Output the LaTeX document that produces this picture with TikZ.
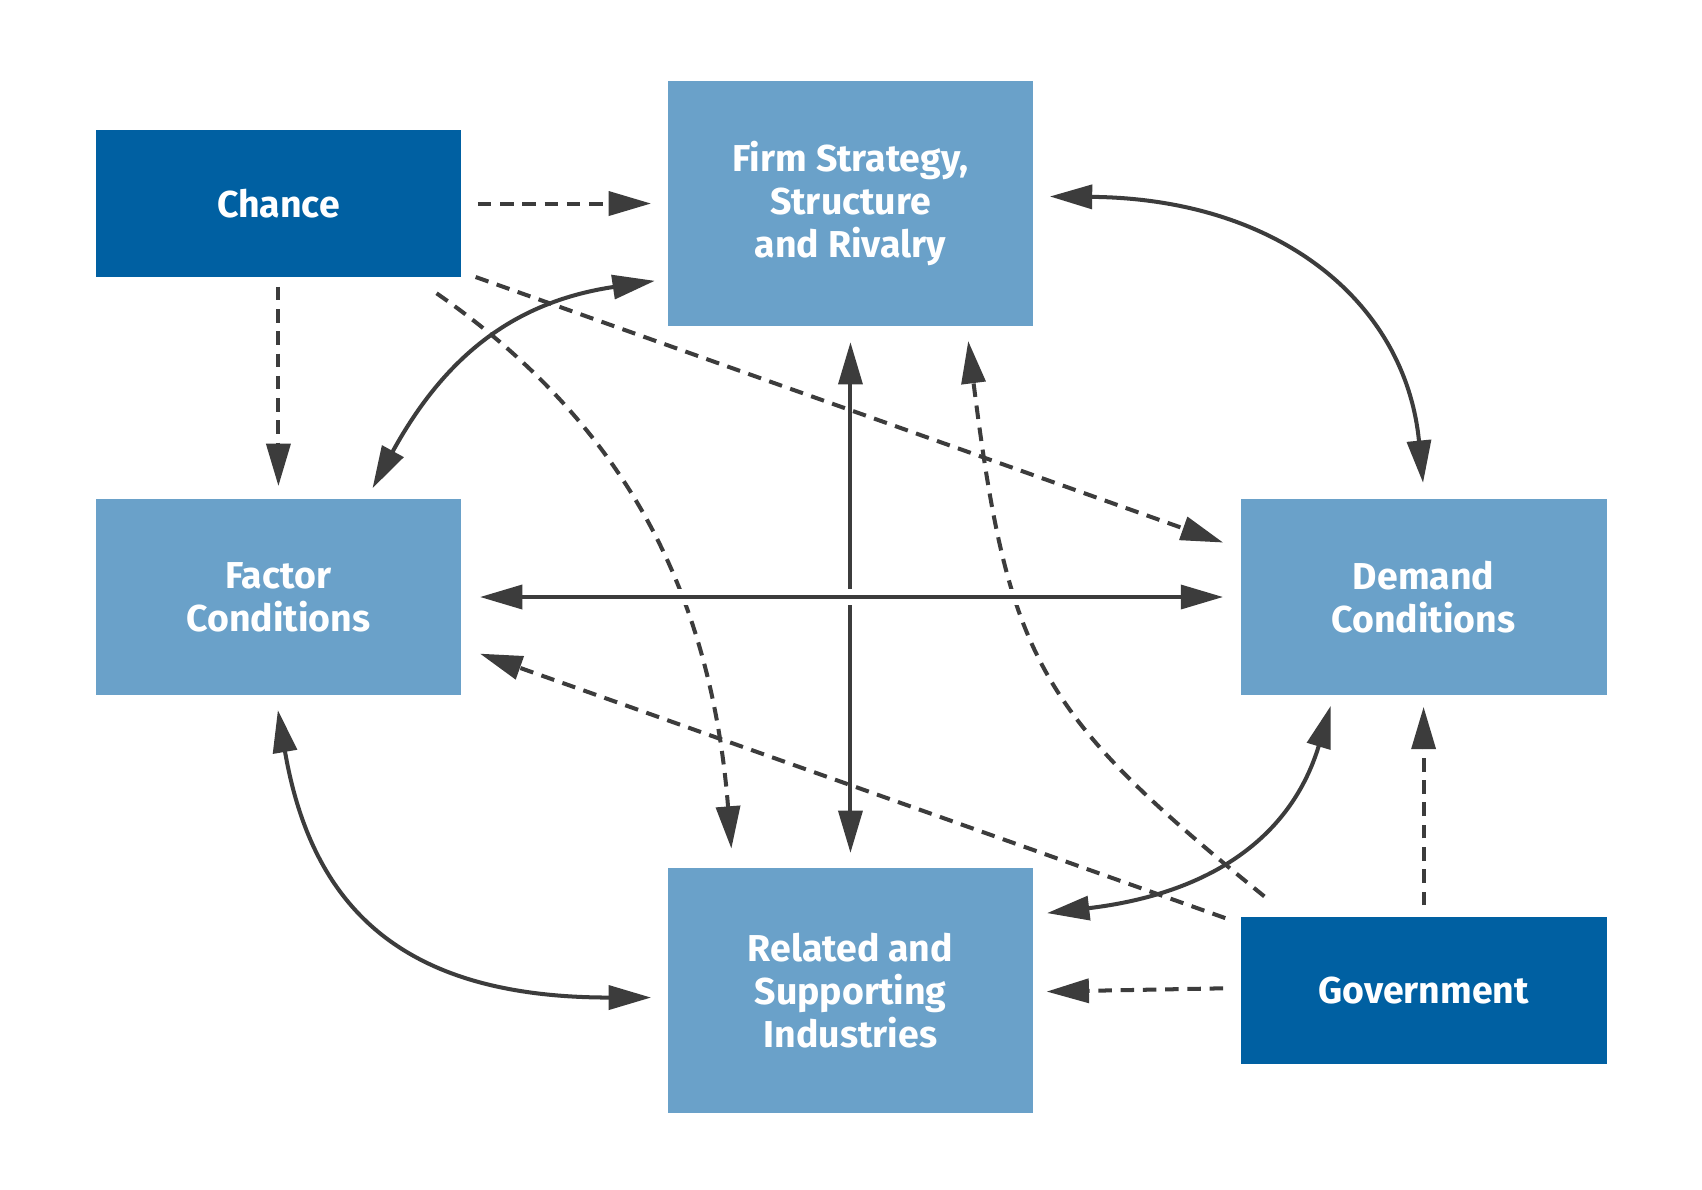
\documentclass[tikz,border=0pt]{standalone}
\usepackage{fontspec}
\setmainfont{Fira Sans}
\usetikzlibrary{arrows.meta,calc}
\definecolor{darkblue}{HTML}{0060A2}
\definecolor{lightblue}{HTML}{6AA1C9}
\definecolor{arrowgray}{HTML}{3C3C3C}
\begin{document}
\begin{tikzpicture}[x=1pt,y=-1pt,
  box/.style={rectangle, minimum width=337pt, text=white, inner sep=0pt,
    font=\fontsize{34.5}{39.4}\selectfont\bfseries, align=center},
  lightbox/.style={box, fill=lightblue},
  darkbox/.style={box, fill=darkblue},
  conn/.style={draw=arrowgray, line width=3.7pt, >={Triangle[length=39pt,width=22pt]}},
  dsh/.style={conn, dash pattern=on 12.5pt off 8pt},
  knock/.style={preaction={draw=white, line width=14pt, arrows=-}}]
\useasboundingbox[fill=white] (0,0) rectangle (1568,1096);

\node[darkbox, minimum height=135pt] (chance) at (256.5,187.5) {Chance};
\node[lightbox, minimum height=225pt] (firm) at (783.5,187.5) {Firm Strategy,\\Structure\\and Rivalry};
\node[lightbox, minimum height=180pt] (factor) at (256.5,550) {Factor\\Conditions};
\node[lightbox, minimum height=180pt] (demand) at (1311.5,550) {Demand\\Conditions};
\node[lightbox, minimum height=225pt] (related) at (783.5,912.5) {Related and\\Supporting\\Industries};
\node[darkbox, minimum height=135pt] (gov) at (1311.5,912.5) {Government};

% dashed influences of Chance
\draw[dsh, ->, shorten <=15pt, shorten >=15pt] (chance.east) -- (firm.west);
\draw[dsh, ->, shorten <=9pt, shorten >=12pt] (chance.south) -- (factor.north);
\draw[dsh, ->] ($(chance.south east)+(13,0)$) -- ($(demand.north west)+(-16,40)$);
\draw[dsh, ->] ($(chance.south east)+(-23,15)$) .. controls +(171,119) and +(-19,-239) .. ($(related.north west)+(59,-18)$);

% dashed influences of Government
\draw[dsh, ->, shorten <=11pt, shorten >=11pt] (gov.north) -- (demand.south);
\draw[dsh, ->] ($(gov.west)+(-16,-2)$) -- ($(related.east)+(12,1)$);
\draw[dsh, ->] ($(gov.north west)+(-14,1)$) -- ($(factor.south east)+(17,-38)$);
\draw[dsh, ->] ($(gov.north west)+(22,-19)$) .. controls +(-209,-169) and +(37,292) .. ($(firm.south)+(108.5,14)$);

% solid diamond links
\draw[conn, <->] ($(factor.north east)+(-82,-10)$) .. controls +(68,-124) and +(-127.5,19) .. ($(firm.south west)+(-11.5,-41.5)$);
\draw[conn, <->] ($(firm.east)+(15,-6.5)$) .. controls +(213,2) and +(-16,-165) .. ($(demand.north)+(-0.5,-15)$);
\draw[conn, <->] ($(factor.south)+(-0.5,14)$) .. controls +(32,186) and +(-225,0) .. ($(related.west)+(-15,6.5)$);
\draw[conn, <->] ($(demand.south)+(-85.5,10)$) .. controls +(-36,120) and +(152,-18) .. ($(related.north east)+(12.4,41.4)$);
\draw[conn, <->, shorten <=15pt, shorten >=14pt] (firm.south) -- (related.north);
\draw[conn, <->, knock, shorten <=17pt, shorten >=16pt] (factor.east) -- (demand.west);
\end{tikzpicture}
\end{document}
